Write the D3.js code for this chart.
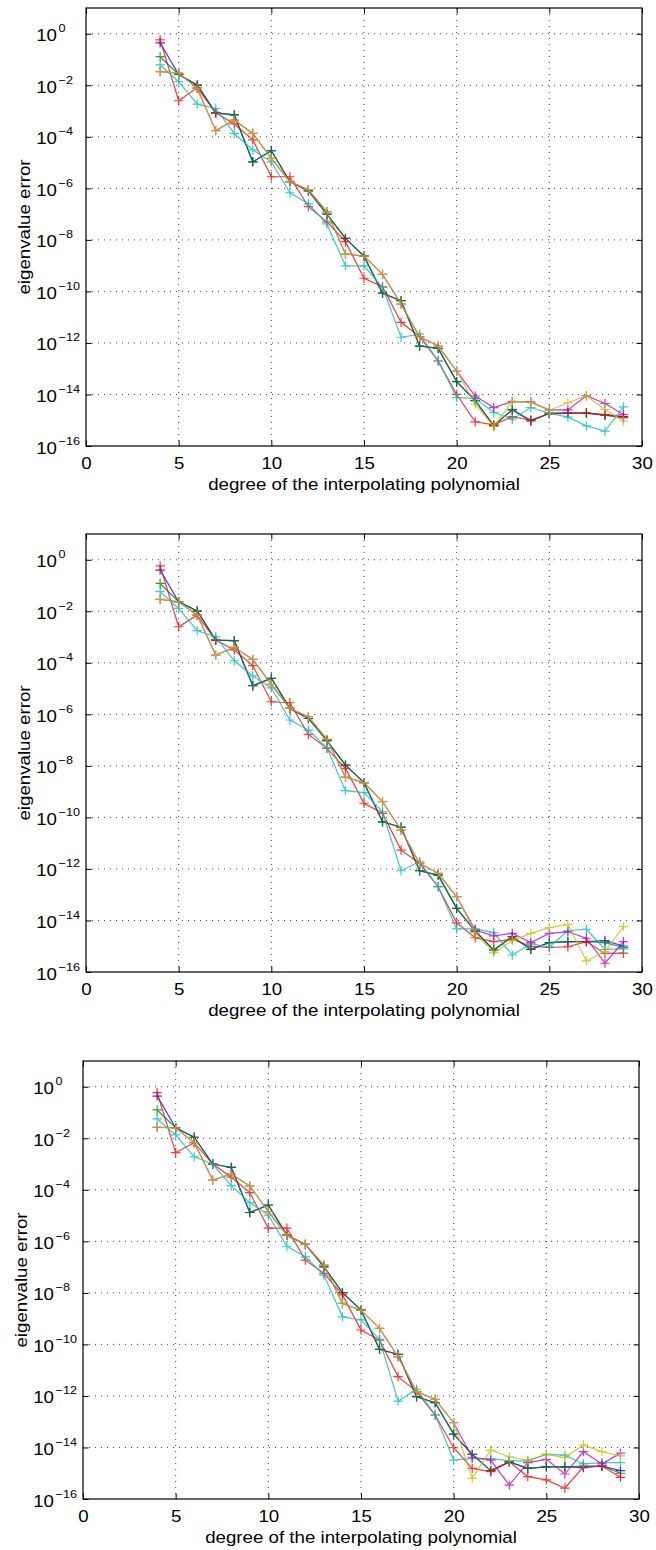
<!DOCTYPE html>
<html><head><meta charset="utf-8">
<script src="https://cdn.jsdelivr.net/npm/d3@7"></script>
<style>body{margin:0;background:#fff} svg{display:block}</style>
</head><body>
<svg id="chart" width="656" height="1550"></svg>
<script>
// ---------- data ----------
const degrees = [4,5,6,7,8,9,10,11,12,13,14,15,16,17,18,19,20,21,22,23,24,25,26,27,28,29];
const xTicks = [0,5,10,15,20,25,30];
const yTickExponents = [0,-2,-4,-6,-8,-10,-12,-14,-16];
const seriesNames = ["blue","green","red","cyan","magenta","yellow"];
const seriesColors = ["#0000ff","#008000","#ff0000","#00bfbf","#bf00bf","#bfbf00"];
const xLabel = "degree of the interpolating polynomial";
const yLabel = "eigenvalue error";

// values are log10(eigenvalue error)
// panel 1
const p1Blue    = [-0.35,-1.58,-1.99,-3.07,-3.15,-4.97,-4.54,-5.74,-6.10,-7.00,-7.94,-8.63,-10.07,-10.36,-12.12,-12.21,-13.50,-14.24,-15.20,-14.60,-15.03,-14.73,-14.72,-14.72,-14.78,-14.86];
const p1Green   = [-0.89,-1.58,-1.99,-3.07,-3.15,-4.97,-4.54,-5.74,-6.10,-7.00,-7.94,-8.63,-10.07,-10.36,-12.12,-12.21,-13.50,-14.24,-15.22,-14.58,-15.00,-14.73,-14.72,-14.72,-14.80,-14.90];
const p1Red     = [-0.24,-2.60,-2.10,-3.07,-3.50,-4.12,-5.55,-5.55,-6.71,-7.30,-8.07,-9.49,-9.82,-11.20,-11.76,-12.70,-14.00,-15.06,-15.18,-14.86,-15.00,-14.75,-14.73,-14.73,-14.80,-14.88];
const p1Cyan    = [-1.21,-1.86,-2.73,-2.90,-3.87,-4.51,-4.97,-6.17,-6.60,-7.38,-9.01,-9.01,-9.84,-11.78,-11.66,-12.70,-14.12,-14.15,-14.70,-14.96,-14.51,-14.73,-14.88,-15.22,-15.42,-14.48];
const p1Magenta = [-1.47,-1.53,-2.12,-3.76,-3.35,-3.87,-4.84,-5.74,-6.05,-6.91,-8.55,-8.63,-9.34,-10.49,-11.76,-12.12,-13.09,-14.06,-14.51,-14.28,-14.29,-14.60,-14.60,-14.05,-14.35,-14.78];
const p1Yellow  = [-1.47,-1.53,-2.12,-3.76,-3.35,-3.87,-4.84,-5.74,-6.05,-6.91,-8.55,-8.63,-9.34,-10.49,-11.76,-12.12,-13.09,-14.37,-15.25,-14.26,-14.32,-14.62,-14.32,-14.05,-14.58,-15.03];
// panel 2
const p2Blue    = [-0.40,-1.63,-1.99,-3.12,-3.14,-4.89,-4.60,-5.77,-6.16,-7.02,-7.97,-8.65,-10.17,-10.38,-12.07,-12.24,-13.53,-14.41,-15.15,-14.63,-15.12,-14.86,-14.82,-14.82,-14.78,-14.99];
const p2Green   = [-0.92,-1.63,-1.99,-3.12,-3.14,-4.89,-4.60,-5.77,-6.16,-7.02,-7.97,-8.65,-10.17,-10.38,-12.07,-12.24,-13.53,-14.41,-15.15,-14.63,-15.12,-14.86,-14.82,-14.82,-14.86,-15.05];
const p2Red     = [-0.24,-2.60,-2.15,-3.12,-3.50,-4.11,-5.51,-5.55,-6.78,-7.32,-8.10,-9.45,-9.84,-11.27,-11.78,-12.69,-14.09,-14.67,-14.82,-14.73,-15.00,-15.05,-15.02,-14.82,-15.28,-15.27];
const p2Cyan    = [-1.24,-1.89,-2.75,-2.99,-3.92,-4.51,-4.97,-6.22,-6.61,-7.30,-8.96,-9.04,-9.78,-12.07,-11.72,-12.69,-14.33,-14.33,-14.47,-15.34,-14.91,-15.02,-14.40,-14.34,-15.12,-15.10];
const p2Magenta = [-1.54,-1.63,-2.15,-3.70,-3.40,-3.87,-4.84,-5.77,-6.09,-6.97,-8.44,-8.65,-9.39,-10.49,-11.78,-12.17,-13.08,-14.37,-14.60,-14.50,-14.86,-14.50,-14.44,-14.69,-15.66,-14.82];
const p2Yellow  = [-1.54,-1.63,-2.15,-3.70,-3.40,-3.87,-4.84,-5.77,-6.09,-6.97,-8.44,-8.65,-9.39,-10.49,-11.78,-12.17,-13.08,-14.47,-15.25,-14.78,-14.50,-14.28,-14.15,-15.57,-15.21,-14.24];
// panel 3
const p3Blue    = [-0.36,-1.59,-1.96,-3.00,-3.13,-4.88,-4.59,-5.76,-6.12,-6.99,-7.99,-8.67,-10.19,-10.39,-12.03,-12.26,-13.48,-14.27,-14.90,-14.56,-14.81,-14.75,-14.75,-14.78,-14.72,-14.90];
const p3Green   = [-0.90,-1.59,-1.96,-3.00,-3.13,-4.88,-4.59,-5.76,-6.12,-6.99,-7.99,-8.67,-10.19,-10.39,-12.03,-12.26,-13.48,-14.27,-14.90,-14.56,-14.81,-14.75,-14.75,-14.72,-14.72,-15.00];
const p3Red     = [-0.23,-2.56,-2.17,-3.00,-3.51,-4.11,-5.49,-5.49,-6.73,-7.24,-8.08,-9.44,-9.83,-11.25,-11.83,-12.74,-14.01,-14.81,-14.94,-14.56,-15.13,-15.26,-15.58,-14.75,-14.72,-15.16];
const p3Cyan    = [-1.25,-1.87,-2.72,-3.00,-3.84,-4.50,-4.98,-6.19,-6.60,-7.31,-8.93,-9.05,-9.80,-12.20,-11.74,-12.74,-14.49,-14.42,-14.43,-14.52,-14.52,-14.27,-14.30,-14.64,-14.59,-14.59];
const p3Magenta = [-1.58,-1.59,-2.17,-3.62,-3.39,-3.85,-4.85,-5.76,-6.12,-6.92,-8.41,-8.67,-9.38,-10.48,-11.83,-12.13,-13.04,-14.38,-14.49,-15.46,-14.59,-14.46,-15.03,-14.16,-14.64,-14.22];
const p3Yellow  = [-1.58,-1.59,-2.17,-3.62,-3.39,-3.85,-4.85,-5.76,-6.12,-6.92,-8.41,-8.67,-9.38,-10.48,-11.83,-12.13,-13.04,-15.20,-14.10,-14.36,-14.49,-14.27,-14.39,-13.90,-14.16,-14.33];

const panels = [
  {box:{left:86, top:8,    right:642, bottom:446},  series:[p1Blue,p1Green,p1Red,p1Cyan,p1Magenta,p1Yellow]},
  {box:{left:86, top:534,  right:642, bottom:972},  series:[p2Blue,p2Green,p2Red,p2Cyan,p2Magenta,p2Yellow]},
  {box:{left:83, top:1061, right:639, bottom:1499}, series:[p3Blue,p3Green,p3Red,p3Cyan,p3Magenta,p3Yellow]}
];

// ---------- drawing ----------
const svg = d3.select("#chart");
const FONT = "'Liberation Sans', Arial, Helvetica, sans-serif";
const SX = 1.1; // horizontal stretch of the glyphs
const TICK = 5.5;

panels.forEach(p => {
  const b = p.box;
  const x = d3.scaleLinear().domain([0,30]).range([b.left, b.right]);
  const y = d3.scaleLog().domain([1e-16, 1e1]).range([b.bottom, b.top]);
  const g = svg.append("g");

  // grid
  const grid = g.append("g").attr("stroke","#000").attr("stroke-width",1)
    .attr("stroke-dasharray","1,5").attr("stroke-opacity",0.75);
  grid.selectAll("line.v").data(xTicks.filter(t => t > 0 && t < 30)).join("line")
    .attr("x1", d => x(d)).attr("x2", d => x(d)).attr("y1", b.top).attr("y2", b.bottom);
  grid.selectAll("line.h").data(yTickExponents.filter(e => e > -16)).join("line")
    .attr("y1", d => y(Math.pow(10,d))).attr("y2", d => y(Math.pow(10,d))).attr("x1", b.left).attr("x2", b.right);

  // axes (inward ticks on all four sides)
  const yVals = yTickExponents.map(e => Math.pow(10,e));
  const bottomAx = g.append("g").attr("transform",`translate(0,${b.bottom})`)
    .call(d3.axisBottom(x).tickValues(xTicks).tickSize(-TICK).tickSizeOuter(0).tickFormat(d3.format("d")));
  g.append("g").attr("transform",`translate(0,${b.top})`)
    .call(d3.axisTop(x).tickValues(xTicks).tickSize(-TICK).tickSizeOuter(0).tickFormat(""));
  const leftAx = g.append("g").attr("transform",`translate(${b.left},0)`)
    .call(d3.axisLeft(y).tickValues(yVals).tickSize(-TICK).tickSizeOuter(0).tickFormat(""));
  g.append("g").attr("transform",`translate(${b.right},0)`)
    .call(d3.axisRight(y).tickValues(yVals).tickSize(-TICK).tickSizeOuter(0).tickFormat(""));
  g.selectAll(".domain").remove();
  g.selectAll(".tick line").attr("stroke","#000").attr("stroke-width",1);

  bottomAx.selectAll(".tick text")
    .attr("y", 23).attr("dy", null)
    .attr("transform", `scale(${SX},1)`)
    .attr("font-family", FONT).attr("font-size", 17).attr("fill","#000");

  leftAx.selectAll(".tick").each(function(d, i) {
    const t = d3.select(this);
    t.select("text").remove();
    const e = yTickExponents[i];
    t.append("g").attr("transform", `translate(-29,7) scale(${SX},1)`)
      .append("text").attr("text-anchor","end").attr("font-family",FONT)
      .attr("font-size",17).attr("fill","#000").text("10");
    t.append("g").attr("transform", `translate(-27.5,-2) scale(${SX},1)`)
      .append("text").attr("text-anchor","start").attr("font-family",FONT)
      .attr("font-size",11.5).attr("fill","#000").text(e === 0 ? "0" : "\u2212" + Math.abs(e));
  });

  // box
  g.append("rect").attr("x", b.left).attr("y", b.top)
    .attr("width", b.right - b.left).attr("height", b.bottom - b.top)
    .attr("fill","none").attr("stroke","#000").attr("stroke-width",1.2);

  // series
  const line = d3.line().x((d,i) => x(degrees[i])).y(d => y(Math.pow(10,d)));
  p.series.forEach((vals, si) => {
    const sg = g.append("g").attr("class","series-" + seriesNames[si]).attr("opacity",0.78);
    sg.append("path").attr("d", line(vals)).attr("fill","none")
      .attr("stroke", seriesColors[si]).attr("stroke-width",1.2);
    sg.selectAll("path.m").data(vals).join("path").attr("class","m")
      .attr("transform", (d,i) => `translate(${x(degrees[i])},${y(Math.pow(10,d))})`)
      .attr("d","M-4.7,0H4.7M0,-4.7V4.7")
      .attr("stroke", seriesColors[si]).attr("stroke-width",1.2).attr("fill","none");
  });

  // labels
  g.append("g").attr("transform", `translate(${(b.left + b.right)/2},${b.bottom + 43.5}) scale(${SX},1)`)
    .append("text").attr("text-anchor","middle").attr("font-family",FONT)
    .attr("font-size",17).attr("fill","#000").text(xLabel);
  g.append("g").attr("transform", `translate(${b.left - 56.5},${(b.top + b.bottom)/2}) rotate(-90) scale(${SX},1)`)
    .append("text").attr("text-anchor","middle").attr("font-family",FONT)
    .attr("font-size",17).attr("fill","#000").text(yLabel);
});
</script>
</body></html>
